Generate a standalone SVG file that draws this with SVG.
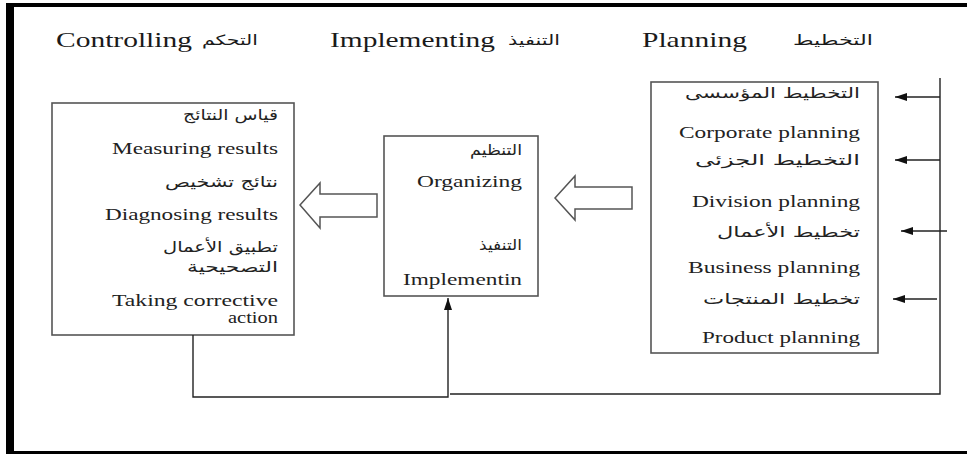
<svg xmlns="http://www.w3.org/2000/svg" width="967" height="454" viewBox="0 0 967 454">
<style>
.box{fill:#fff;stroke:#555;stroke-width:1.6}
.hd{font-family:"Liberation Serif",serif;font-size:22px;fill:#1a1a1a}
.ha{font-family:"DejaVu Sans",sans-serif;font-size:14px;fill:#1a1a1a;text-anchor:end}
.en{font-family:"Liberation Serif",serif;font-size:16px;fill:#222;text-anchor:end}
.ar{font-family:"DejaVu Sans",sans-serif;font-size:15px;fill:#222;text-anchor:end}
.ln{fill:none;stroke:#222;stroke-width:1.4}
.hollow{fill:#fff;stroke:#555;stroke-width:1.5}
</style>
<defs>
<marker id="ah" markerWidth="12" markerHeight="8" refX="12" refY="4" orient="auto" markerUnits="userSpaceOnUse">
<path d="M0,0 L12,4 L0,8 Z" fill="#111"/>
</marker>
</defs>
<rect x="0" y="0" width="967" height="454" fill="#fff"/>
<g id="frame">
<rect x="6" y="3" width="8" height="451" fill="#000"/>
<rect x="6" y="3" width="961" height="4" fill="#000"/>
<rect x="6" y="451" width="961" height="3" fill="#000"/>
</g>
<g id="headers">
<text class="hd" x="56" y="47" textLength="136" lengthAdjust="spacingAndGlyphs">Controlling</text>
<text class="ha" x="258" y="45" textLength="56" lengthAdjust="spacingAndGlyphs">التحكم</text>
<text class="hd" x="330" y="47" textLength="165" lengthAdjust="spacingAndGlyphs">Implementing</text>
<text class="ha" x="560" y="45" textLength="52" lengthAdjust="spacingAndGlyphs">التنفيذ</text>
<text class="hd" x="642" y="47" textLength="105" lengthAdjust="spacingAndGlyphs">Planning</text>
<text class="ha" x="873" y="45" textLength="80" lengthAdjust="spacingAndGlyphs">التخطيط</text>
</g>
<g id="controlling">
<rect class="box" x="52" y="103" width="242" height="232"/>
<text class="ar" x="278" y="120" textLength="95" lengthAdjust="spacingAndGlyphs">قياس النتائج</text>
<text class="en" x="278" y="154" textLength="166" lengthAdjust="spacingAndGlyphs">Measuring results</text>
<text class="ar" x="278" y="187" textLength="113" lengthAdjust="spacingAndGlyphs">نتائج تشخيص</text>
<text class="en" x="278" y="220" textLength="173" lengthAdjust="spacingAndGlyphs">Diagnosing results</text>
<text class="ar" x="278" y="252" textLength="115" lengthAdjust="spacingAndGlyphs">تطبيق الأعمال</text>
<text class="ar" x="278" y="272" textLength="91" lengthAdjust="spacingAndGlyphs">التصحيحية</text>
<text class="en" x="278" y="306" textLength="166" lengthAdjust="spacingAndGlyphs">Taking corrective</text>
<text class="en" x="278" y="323" textLength="50" lengthAdjust="spacingAndGlyphs">action</text>
</g>
<g id="implementing">
<rect class="box" x="384" y="136" width="154" height="160"/>
<text class="ar" x="522" y="155" textLength="52" lengthAdjust="spacingAndGlyphs">التنظيم</text>
<text class="en" x="522" y="187" textLength="105" lengthAdjust="spacingAndGlyphs">Organizing</text>
<text class="ar" x="522" y="250" textLength="43" lengthAdjust="spacingAndGlyphs">التنفيذ</text>
<text class="en" x="522" y="285" textLength="119" lengthAdjust="spacingAndGlyphs">Implementin</text>
</g>
<g id="planning">
<rect class="box" x="651" y="82" width="227" height="271"/>
<text class="ar" x="860" y="98" textLength="175" lengthAdjust="spacingAndGlyphs">التخطيط المؤسسى</text>
<text class="en" x="860" y="138" textLength="181" lengthAdjust="spacingAndGlyphs">Corporate planning</text>
<text class="ar" x="860" y="165" textLength="165" lengthAdjust="spacingAndGlyphs">التخطيط الجزئى</text>
<text class="en" x="860" y="207" textLength="168" lengthAdjust="spacingAndGlyphs">Division planning</text>
<text class="ar" x="860" y="237" textLength="143" lengthAdjust="spacingAndGlyphs">تخطيط الأعمال</text>
<text class="en" x="860" y="273" textLength="172" lengthAdjust="spacingAndGlyphs">Business planning</text>
<text class="ar" x="860" y="304" textLength="157" lengthAdjust="spacingAndGlyphs">تخطيط المنتجات</text>
<text class="en" x="860" y="343" textLength="158" lengthAdjust="spacingAndGlyphs">Product planning</text>
</g>
<g id="connectors">
<polygon class="hollow" points="300,205 320,183 320,194 377,194 377,217 320,217 320,228"/>
<polygon class="hollow" points="555,198 575,176 575,187 632,187 632,209 575,209 575,220"/>
<path class="ln" d="M940,78 V394 H450"/>
<path class="ln" d="M193,335 V397 H448 V298" marker-end="url(#ah)"/>
<path class="ln" d="M940,97 H895" marker-end="url(#ah)"/>
<path class="ln" d="M940,160 H895" marker-end="url(#ah)"/>
<path class="ln" d="M947,231 H901" marker-end="url(#ah)"/>
<path class="ln" d="M937,299 H893" marker-end="url(#ah)"/>
</g>
</svg>
